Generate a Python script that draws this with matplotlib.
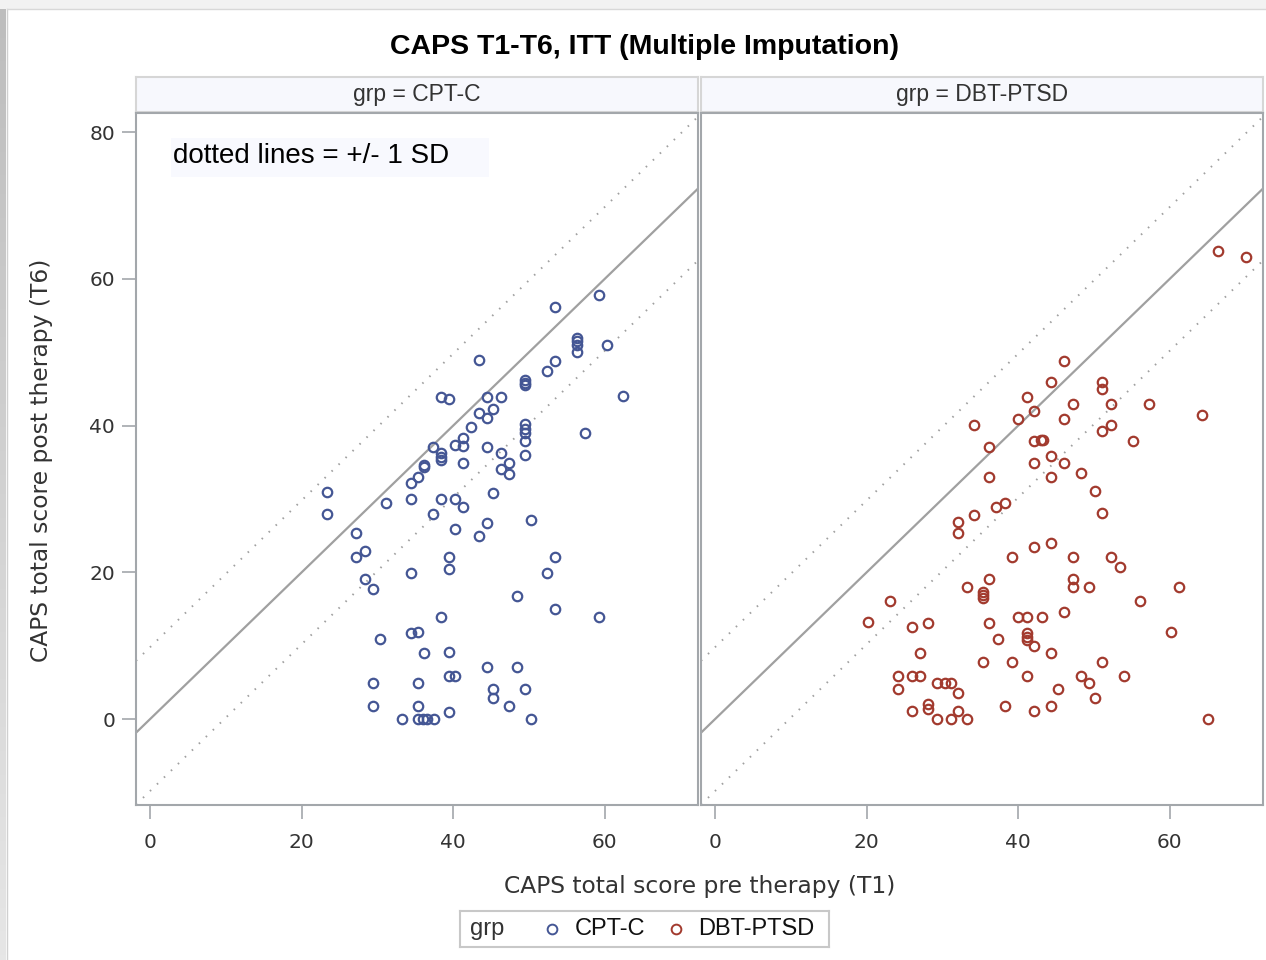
import matplotlib
matplotlib.use("Agg")
import matplotlib.pyplot as plt
from matplotlib import font_manager
from matplotlib.patches import Rectangle
from matplotlib.lines import Line2D
import numpy as np

# ---------------------------------------------------------------- data
groups = ["CPT-C", "DBT-PTSD"]

cpt_pre = [59.3, 53.4, 56.3, 56.3, 56.3, 56.3, 60.3, 53.4, 52.4, 43.4,
           49.5, 49.5, 49.5, 62.4, 38.4, 39.4, 44.4, 46.3, 45.2, 43.4,
           44.4, 42.3, 49.5, 49.5, 49.5, 49.5, 57.4, 37.3, 40.2, 41.3,
           41.3, 38.4, 38.4, 38.4, 44.4, 46.3, 49.5, 41.3, 36.2, 36.2,
           47.4, 46.3, 47.4, 35.4, 34.4, 23.3, 23.3, 31.2, 34.4, 38.4,
           40.2, 41.3, 37.3, 45.2, 27.2, 40.2, 44.4, 43.4, 50.3, 28.3,
           27.2, 39.4, 39.4, 53.4, 52.4, 34.4, 28.3, 29.4, 48.4, 53.4,
           59.3, 38.4, 30.4, 34.4, 35.4, 36.2, 39.4, 44.4, 48.4, 39.4,
           40.2, 29.4, 35.4, 45.2, 45.2, 49.5, 29.4, 35.4, 47.4, 39.4,
           33.3, 35.4, 36.0, 36.6, 37.5, 50.3]
cpt_post = [57.8, 56.1, 52.0, 51.5, 51.0, 50.0, 51.0, 48.8, 47.4, 49.0,
            46.2, 45.8, 45.5, 44.1, 43.9, 43.6, 43.9, 43.9, 42.2, 41.7,
            41.1, 39.8, 40.2, 39.6, 39.0, 37.9, 39.0, 37.1, 37.3, 38.3,
            37.2, 36.2, 35.7, 35.3, 37.1, 36.2, 36.0, 34.9, 34.6, 34.3,
            34.9, 34.1, 33.4, 33.0, 32.2, 30.9, 28.0, 29.4, 30.0, 30.0,
            30.0, 28.9, 28.0, 30.8, 25.3, 25.9, 26.7, 24.9, 27.2, 22.9,
            22.1, 22.1, 20.4, 22.1, 19.9, 19.9, 19.1, 17.7, 16.8, 15.0,
            13.9, 13.9, 10.9, 11.7, 11.9, 9.0, 9.1, 7.1, 7.1, 5.9,
            5.9, 4.9, 4.9, 4.1, 2.9, 4.1, 1.8, 1.8, 1.8, 1.0,
            0.0, 0.0, 0.0, 0.0, 0.0, 0.0]

dbt_pre = [66.3, 70.1, 46.1, 44.3, 51.1, 51.1, 41.1, 47.2, 52.2, 57.2,
           42.1, 64.2, 34.2, 40.0, 46.1, 52.2, 51.1, 36.1, 42.1, 43.0,
           43.3, 55.1, 44.3, 42.1, 46.1, 48.3, 36.1, 44.3, 50.1, 51.1,
           32.1, 32.1, 34.2, 37.1, 38.2, 42.1, 44.3, 39.2, 47.2, 52.3,
           53.4, 36.1, 33.3, 35.3, 35.3, 35.3, 47.2, 47.2, 49.3, 61.2,
           23.1, 56.1, 20.2, 40.0, 41.2, 43.2, 46.1, 26.0, 28.1, 36.1,
           60.1, 41.2, 41.2, 41.2, 42.1, 37.3, 27.1, 44.3, 35.3, 39.2,
           51.1, 24.2, 26.0, 27.1, 41.2, 48.3, 49.3, 54.0, 24.2, 29.3,
           30.3, 31.2, 32.1, 45.2, 50.1, 28.1, 28.1, 26.0, 38.2, 42.1,
           44.3, 32.1, 29.3, 31.2, 33.2, 65.1]
dbt_post = [63.8, 63.0, 48.8, 46.0, 46.0, 45.0, 43.9, 43.0, 43.0, 43.0,
            42.0, 41.4, 40.1, 40.9, 40.9, 40.1, 39.2, 37.1, 37.9, 38.0,
            38.0, 37.9, 35.8, 34.9, 34.9, 33.5, 33.0, 33.0, 31.1, 28.1,
            26.8, 25.3, 27.8, 28.9, 29.4, 23.4, 24.0, 22.1, 22.1, 22.1,
            20.7, 19.1, 18.0, 17.3, 16.9, 16.5, 19.1, 18.0, 18.0, 18.0,
            16.1, 16.1, 13.2, 13.9, 13.9, 13.9, 14.6, 12.5, 13.1, 13.1,
            11.9, 11.7, 11.2, 10.8, 9.9, 10.9, 9.0, 9.0, 7.8, 7.8,
            7.8, 5.9, 5.9, 5.9, 5.9, 5.9, 4.9, 5.9, 4.1, 4.9,
            4.9, 4.9, 3.5, 4.1, 2.9, 2.0, 1.4, 1.1, 1.8, 1.1,
            1.8, 1.1, 0.0, 0.0, 0.0, 0.0]

sd_band = 9.8
x_ticks = [0, 20, 40, 60]
y_ticks = [0, 20, 40, 60, 80]

title = "CAPS T1-T6, ITT (Multiple Imputation)"
x_label = "CAPS total score pre therapy (T1)"
y_label = "CAPS total score post therapy (T6)"
note = "dotted lines = +/- 1 SD"

# ---------------------------------------------------------------- style
def pick(*names):
    for n in names:
        try:
            font_manager.findfont(font_manager.FontProperties(family=n),
                                  fallback_to_default=False)
            return n
        except Exception:
            pass
    return "DejaVu Sans"

NARROW = pick("Liberation Sans Narrow", "Liberation Sans")
ARIAL = pick("Liberation Sans", "Arial")
TICKF = "DejaVu Sans"

colors = {"CPT-C": "#445694", "DBT-PTSD": "#A23A2E"}
frame_col = "#A3A7AB"
ref_col = "#A0A0A0"
txt_col = "#333333"

W, H = 1266, 960
fig = plt.figure(figsize=(W / 100, H / 100), dpi=100)
fig.patch.set_facecolor("white")


def box(x0, y0, x1, y1):
    """pixel box (origin top-left) -> figure rect"""
    return [x0 / W, 1 - y1 / H, (x1 - x0) / W, (y1 - y0) / H]


# outer window frame; this axes also provides a top-left pixel coordinate system
bg = fig.add_axes([0, 0, 1, 1], zorder=-10)
bg.set_xlim(0, W)
bg.set_ylim(H, 0)
bg.axis("off")
bg.add_patch(Rectangle((0, 0), W, 9, color="#F2F2F2", lw=0))
grad = np.linspace(0, 1, 200).reshape(-1, 1)
bg.imshow(grad, extent=(0, 6, H, 9), cmap=matplotlib.colors.LinearSegmentedColormap.from_list(
    "edge", ["#E6E6E6", "#BDBDBD"]), aspect="auto", origin="lower")
bg.plot([6.5, 6.5], [9, H], color="#D0D0D0", lw=1)
bg.plot([6.5, W], [8.5, 8.5], color="#D8D8D8", lw=1)

fig.text(645 / W, 1 - 47 / H, title, ha="center", va="center",
         fontsize=20.5, fontweight="bold", family=NARROW, color="#000000")

panels = [(groups[0], cpt_pre, cpt_post, 136, 698),
          (groups[1], dbt_pre, dbt_post, 701, 1263)]

xlim = (-1.85, 72.3)
ylim = (-11.7, 82.6)

for i, (g, xs, ys, x0, x1) in enumerate(panels):
    # header strip
    st = fig.add_axes(box(x0, 77, x1, 112))
    st.set_facecolor("#F7F8FD")
    st.set_xticks([])
    st.set_yticks([])
    for s in st.spines.values():
        s.set_color("#D6D6D6")
        s.set_linewidth(1.5)
    st.text(0.5, 0.5, f"grp = {g}", ha="center", va="center",
            transform=st.transAxes, fontsize=16.5, family=NARROW, color=txt_col)

    ax = fig.add_axes(box(x0, 113, x1, 805))
    ax.set_xlim(*xlim)
    ax.set_ylim(*ylim)
    for s in ax.spines.values():
        s.set_color(frame_col)
        s.set_linewidth(1.5)

    # identity line and +/- 1 SD band
    line_x = np.array(xlim)
    ax.plot(line_x, line_x, color=ref_col, lw=1.6, zorder=1)
    for off in (sd_band, -sd_band):
        ax.plot(line_x, line_x + off, color=ref_col, lw=1.4,
                linestyle=(0, (0.8, 4.2)), zorder=1)

    ax.plot(xs, ys, linestyle="none", marker="o", markersize=6.8,
            markerfacecolor="none", markeredgecolor=colors[g],
            markeredgewidth=1.6, zorder=3)

    ax.set_xticks(x_ticks)
    ax.tick_params(axis="x", direction="out", length=10, width=1.2,
                   color=frame_col, pad=10, labelsize=14.5, labelcolor=txt_col)
    if i == 0:
        ax.set_yticks(y_ticks)
        ax.tick_params(axis="y", direction="out", length=10, width=1.2,
                       color=frame_col, pad=5, labelsize=14.5, labelcolor=txt_col)
        # note panel in the upper-left corner
        ax.add_patch(Rectangle((171, 138), 318, 39, transform=bg.transData,
                               lw=0, fc="#F8F9FE", zorder=2))
        ax.text(173 / W, 1 - 156 / H, note, transform=fig.transFigure,
                ha="left", va="center", fontsize=20, family=ARIAL,
                color="#000000", zorder=4)
    else:
        ax.set_yticks([])
    for lab in ax.get_xticklabels() + ax.get_yticklabels():
        lab.set_family(TICKF)

fig.text(700 / W, 1 - 886 / H, x_label, ha="center", va="center",
         fontsize=16.8, family=TICKF, color=txt_col)
fig.text(42 / W, 1 - 460 / H, y_label, ha="center", va="center", rotation=90,
         fontsize=16.8, family=TICKF, color=txt_col)

# legend
lg = fig.add_axes(box(460, 911, 829, 947))
lg.set_xlim(460, 829)
lg.set_ylim(947, 911)
lg.set_xticks([])
lg.set_yticks([])
for s in lg.spines.values():
    s.set_color("#C8C8C8")
    s.set_linewidth(1.5)
lg.text(470, 929, "grp", ha="left", va="center", fontsize=17, family=ARIAL, color=txt_col)
for g, mx, tx in [(groups[0], 552, 575), (groups[1], 676, 698)]:
    lg.add_line(Line2D([mx], [929], marker="o", markersize=7,
                       markerfacecolor="none", markeredgecolor=colors[g],
                       markeredgewidth=1.4, linestyle="none"))
    lg.text(tx, 929, g, ha="left", va="center", fontsize=17, family=ARIAL,
            color="#111111")

fig.savefig("out.png", dpi=100)
